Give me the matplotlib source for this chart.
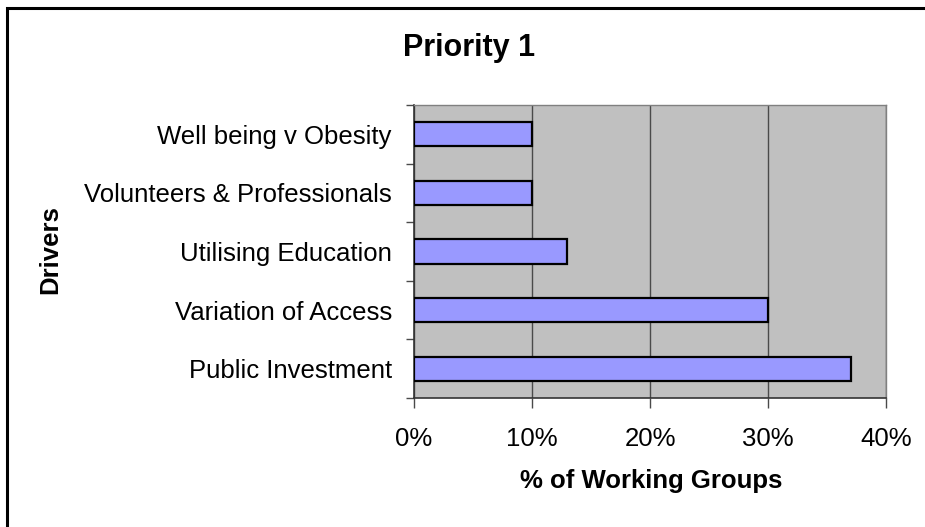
import matplotlib
matplotlib.use("Agg")
import matplotlib.pyplot as plt
from matplotlib.patches import Rectangle
from matplotlib.ticker import FixedLocator, PercentFormatter

plt.rcParams['font.family'] = ['Liberation Sans', 'DejaVu Sans']

# Chart data (bottom to top)
drivers = ["Public Investment", "Variation of Access", "Utilising Education",
           "Volunteers & Professionals", "Well being v Obesity"]
share_pct = [37, 30, 13, 10, 10]
x_ticks = [0, 10, 20, 30, 40]

W, H = 925, 527
fig = plt.figure(figsize=(W / 100, H / 100), dpi=100)
fig.patch.set_facecolor("white")

# Outer chart frame (left and top edges visible)
fig.add_artist(Rectangle((6.5 / W, -0.1), 1.2, 1 - 7.5 / H + 0.1,
                         transform=fig.transFigure, fill=False,
                         edgecolor="black", linewidth=2.2))

ax = fig.add_axes([414 / W, 1 - 398 / H, 472 / W, 293 / H])
ax.set_facecolor("#C0C0C0")

ypos = list(range(len(drivers)))
ax.barh(ypos, share_pct, height=0.41, color="#9999FF",
        edgecolor="black", linewidth=1.6, zorder=3)

ax.set_xlim(0, 40)
ax.set_ylim(-0.5, len(drivers) - 0.5)

ax.xaxis.set_major_locator(FixedLocator(x_ticks))
ax.xaxis.set_major_formatter(PercentFormatter(decimals=0))
ax.grid(axis="x", color="#4a4a4a", linewidth=1.0, zorder=1)

ax.set_yticks(ypos)
ax.set_yticklabels(drivers)
ax.set_yticks([y - 0.5 for y in range(len(drivers) + 1)], minor=True)
ax.tick_params(axis="y", which="major", length=0, pad=16, labelsize=18.5)
ax.tick_params(axis="y", which="minor", length=6, width=1.0, color="#4a4a4a",
               direction="out")
ax.tick_params(axis="x", which="major", length=7, width=1.0, color="#4a4a4a",
               direction="out", pad=14, labelsize=18.5)

for side in ("left", "bottom"):
    ax.spines[side].set_color("#333333")
    ax.spines[side].set_linewidth(1.2)
for side in ("top", "right"):
    ax.spines[side].set_color("#808080")
    ax.spines[side].set_linewidth(1.0)

fig.text(469 / W, 1 - 48 / H, "Priority 1", ha="center", va="center",
         fontsize=22, fontweight="bold")
fig.text(651 / W, 1 - 481 / H, "% of Working Groups", ha="center",
         va="center", fontsize=18.5, fontweight="bold")
fig.text(50 / W, 1 - 250 / H, "Drivers", ha="center", va="center",
         rotation=90, fontsize=18.5, fontweight="bold")

fig.savefig("out.png", dpi=100)
